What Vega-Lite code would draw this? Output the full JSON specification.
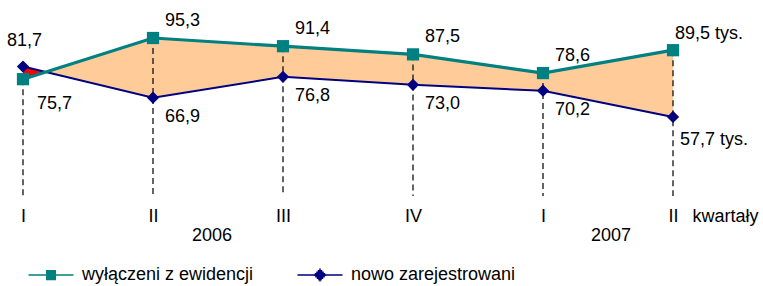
{
  "$schema": "https://vega.github.io/schema/vega-lite/v6.json",
  "width": 763,
  "height": 286,
  "autosize": {"type": "none"},
  "padding": 0,
  "background": "white",
  "config": {
    "view": {"stroke": null},
    "font": "Liberation Sans",
    "locale": {"number": {"decimal": ",", "thousands": " ", "grouping": [3], "currency": ["", " tys."]}},
    "legend": {"orient": "none", "legendY": 266, "direction": "horizontal",
               "labelFontSize": 18, "labelFont": "Liberation Sans", "labelColor": "black",
               "labelOffset": 22, "symbolSize": 100, "symbolStrokeWidth": 1.5,
               "symbolOpacity": 1, "padding": 0, "labelLimit": 400}
  },
  "datasets": {
    "kwartaly": [
      {"q": 0, "kwartal": "I", "rok": "2006", "wyłączeni z ewidencji": 75.7, "nowo zarejestrowani": 81.7},
      {"q": 1, "kwartal": "II", "rok": "2006", "wyłączeni z ewidencji": 95.3, "nowo zarejestrowani": 66.9},
      {"q": 2, "kwartal": "III", "rok": "2006", "wyłączeni z ewidencji": 91.4, "nowo zarejestrowani": 76.8},
      {"q": 3, "kwartal": "IV", "rok": "2006", "wyłączeni z ewidencji": 87.5, "nowo zarejestrowani": 73.0},
      {"q": 4, "kwartal": "I", "rok": "2007", "wyłączeni z ewidencji": 78.6, "nowo zarejestrowani": 70.2},
      {"q": 5, "kwartal": "II", "rok": "2007", "wyłączeni z ewidencji": 89.5, "nowo zarejestrowani": 57.7}
    ],
    "przeciecie": [
      {"q": 0, "gora": 81.7, "dol": 75.7},
      {"q": 0.17, "gora": 79.1, "dol": 79.1}
    ]
  },
  "resolve": {"axis": {"x": "independent"}, "scale": {"stroke": "independent"}},
  "layer": [
    {
      "data": {"name": "kwartaly"},
      "mark": {"type": "area", "color": "#FFCC99", "opacity": 1},
      "encoding": {
        "x": {"field": "q", "type": "quantitative",
              "scale": {"domain": [-0.17692, 5.69231], "nice": false, "zero": false},
              "axis": {"orient": "bottom", "offset": -86, "values": [0, 1, 2, 3, 4, 5],
                       "labelExpr": "['I','II','III','IV','I','II'][datum.value]",
                       "domain": false, "ticks": false, "tickSize": 0, "grid": false,
                       "labelPadding": 21, "labelBaseline": "alphabetic", "labelFontSize": 18,
                       "labelColor": "black", "labelFont": "Liberation Sans", "labelFlush": false, "labelOverlap": false,
                       "title": "kwartały", "titleX": 692, "titleY": 21, "titleAlign": "left",
                       "titleBaseline": "alphabetic", "titleFontSize": 18, "titleFontWeight": "normal",
                       "titleColor": "black", "titleFont": "Liberation Sans"}},
        "y": {"field": "wyłączeni z ewidencji", "type": "quantitative",
              "scale": {"domain": [-22.8, 113.4], "nice": false, "zero": false}, "axis": null},
        "y2": {"field": "nowo zarejestrowani"}
      }
    },
    {
      "data": {"name": "przeciecie"},
      "mark": {"type": "area", "color": "#FF0000", "opacity": 1},
      "encoding": {
        "x": {"field": "q", "type": "quantitative", "axis": null},
        "y": {"field": "gora", "type": "quantitative", "axis": null},
        "y2": {"field": "dol"}
      }
    },
    {
      "data": {"name": "kwartaly"},
      "mark": {"type": "rule", "color": "#111111", "strokeWidth": 1.3, "strokeDash": [6, 4]},
      "encoding": {
        "x": {"field": "q", "type": "quantitative",
              "axis": {"orient": "bottom", "offset": -86, "values": [1.45, 4.52],
                       "labelExpr": "datum.value < 3 ? '2006' : '2007'",
                       "domain": false, "ticks": false, "tickSize": 0, "grid": false,
                       "labelPadding": 40, "labelBaseline": "alphabetic", "labelFontSize": 18,
                       "labelColor": "black", "labelFont": "Liberation Sans", "labelFlush": false, "labelOverlap": false,
                       "title": null}},
        "y": {"field": "wyłączeni z ewidencji", "type": "quantitative", "axis": null},
        "y2": {"datum": 20.1}
      }
    },
    {
      "data": {"name": "kwartaly"},
      "transform": [{"fold": ["nowo zarejestrowani", "wyłączeni z ewidencji"], "as": ["seria", "wartosc"]}],
      "mark": {"type": "line"},
      "encoding": {
        "x": {"field": "q", "type": "quantitative", "axis": null},
        "y": {"field": "wartosc", "type": "quantitative", "axis": null},
        "color": {"field": "seria", "type": "nominal",
                  "scale": {"domain": ["wyłączeni z ewidencji", "nowo zarejestrowani"], "range": ["#008080", "#000080"]},
                  "legend": null},
        "strokeWidth": {"field": "seria", "type": "nominal",
                        "scale": {"domain": ["wyłączeni z ewidencji", "nowo zarejestrowani"], "range": [3.2, 2]},
                        "legend": null}
      }
    },
    {
      "data": {"name": "kwartaly"},
      "transform": [{"fold": ["nowo zarejestrowani", "wyłączeni z ewidencji"], "as": ["seria", "wartosc"]}],
      "mark": {"type": "point", "filled": true, "opacity": 1, "size": 150},
      "encoding": {
        "x": {"field": "q", "type": "quantitative", "axis": null},
        "y": {"field": "wartosc", "type": "quantitative", "axis": null},
        "shape": {"field": "seria", "type": "nominal",
                  "scale": {"domain": ["wyłączeni z ewidencji", "nowo zarejestrowani"], "range": ["square", "diamond"]},
                  "legend": null},
        "color": {"field": "seria", "type": "nominal", "legend": null}
      }
    },
    {
      "data": {"name": "kwartaly"},
      "transform": [
        {"fold": ["wyłączeni z ewidencji"], "as": ["seria", "wartosc"]},
        {"filter": "false"}
      ],
      "mark": {"type": "point", "filled": false, "opacity": 1, "size": 100, "strokeWidth": 1.5},
      "encoding": {
        "x": {"field": "q", "type": "quantitative", "axis": null},
        "y": {"field": "wartosc", "type": "quantitative", "axis": null},
        "stroke": {"field": "seria", "type": "nominal",
                   "scale": {"domain": ["wyłączeni z ewidencji"], "range": ["#008080"]},
                   "legend": {"title": null, "legendX": 42,
                              "symbolType": "M-4.5,0H4.5M-1,-0.85H1M-1,-0.55H1M-1,-0.25H1M-1,0.05H1M-1,0.35H1M-1,0.65H1M-1,0.88H1"}}
      }
    },
    {
      "data": {"name": "kwartaly"},
      "transform": [
        {"fold": ["nowo zarejestrowani"], "as": ["seria", "wartosc"]},
        {"filter": "false"}
      ],
      "mark": {"type": "point", "filled": false, "opacity": 1, "size": 100, "strokeWidth": 1.5},
      "encoding": {
        "x": {"field": "q", "type": "quantitative", "axis": null},
        "y": {"field": "wartosc", "type": "quantitative", "axis": null},
        "stroke": {"field": "seria", "type": "nominal",
                   "scale": {"domain": ["nowo zarejestrowani"], "range": ["#000080"]},
                   "legend": {"title": null, "legendX": 311,
                              "symbolType": "M-4.5,0H4.5M-0.15,-1.15H0.15M-0.45,-0.85H0.45M-0.75,-0.55H0.75M-1.05,-0.25H1.05M-1.25,0.05H1.25M-0.95,0.35H0.95M-0.65,0.65H0.65M-0.35,0.95H0.35M-0.1,1.2H0.1"}}
      }
    },
    {
      "data": {"name": "kwartaly"},
      "transform": [{"filter": "datum.q >= 1 && datum.q <= 4"}],
      "mark": {"type": "text", "align": "left", "baseline": "alphabetic", "dx": 12, "dy": -12, "fontSize": 18, "color": "black"},
      "encoding": {
        "x": {"field": "q", "type": "quantitative", "axis": null},
        "y": {"field": "wyłączeni z ewidencji", "type": "quantitative", "axis": null},
        "text": {"field": "wyłączeni z ewidencji", "type": "quantitative", "format": ".1f"}
      }
    },
    {
      "data": {"name": "kwartaly"},
      "transform": [{"filter": "datum.q == 0"}],
      "mark": {"type": "text", "align": "left", "baseline": "alphabetic", "dx": 14, "dy": 30, "fontSize": 18, "color": "black"},
      "encoding": {
        "x": {"field": "q", "type": "quantitative", "axis": null},
        "y": {"field": "wyłączeni z ewidencji", "type": "quantitative", "axis": null},
        "text": {"field": "wyłączeni z ewidencji", "type": "quantitative", "format": ".1f"}
      }
    },
    {
      "data": {"name": "kwartaly"},
      "transform": [{"filter": "datum.q == 5"}],
      "mark": {"type": "text", "align": "left", "baseline": "alphabetic", "dx": 2, "dy": -11, "fontSize": 18, "color": "black"},
      "encoding": {
        "x": {"field": "q", "type": "quantitative", "axis": null},
        "y": {"field": "wyłączeni z ewidencji", "type": "quantitative", "axis": null},
        "text": {"field": "wyłączeni z ewidencji", "type": "quantitative", "format": "$.1f"}
      }
    },
    {
      "data": {"name": "kwartaly"},
      "transform": [{"filter": "datum.q >= 1 && datum.q <= 4"}],
      "mark": {"type": "text", "align": "left", "baseline": "alphabetic", "dx": 12, "dy": 24, "fontSize": 18, "color": "black"},
      "encoding": {
        "x": {"field": "q", "type": "quantitative", "axis": null},
        "y": {"field": "nowo zarejestrowani", "type": "quantitative", "axis": null},
        "text": {"field": "nowo zarejestrowani", "type": "quantitative", "format": ".1f"}
      }
    },
    {
      "data": {"name": "kwartaly"},
      "transform": [{"filter": "datum.q == 0"}],
      "mark": {"type": "text", "align": "left", "baseline": "alphabetic", "dx": -16, "dy": -21, "fontSize": 18, "color": "black"},
      "encoding": {
        "x": {"field": "q", "type": "quantitative", "axis": null},
        "y": {"field": "nowo zarejestrowani", "type": "quantitative", "axis": null},
        "text": {"field": "nowo zarejestrowani", "type": "quantitative", "format": ".1f"}
      }
    },
    {
      "data": {"name": "kwartaly"},
      "transform": [{"filter": "datum.q == 5"}],
      "mark": {"type": "text", "align": "left", "baseline": "alphabetic", "dx": 7, "dy": 28, "fontSize": 18, "color": "black"},
      "encoding": {
        "x": {"field": "q", "type": "quantitative", "axis": null},
        "y": {"field": "nowo zarejestrowani", "type": "quantitative", "axis": null},
        "text": {"field": "nowo zarejestrowani", "type": "quantitative", "format": "$.1f"}
      }
    }
  ]
}
